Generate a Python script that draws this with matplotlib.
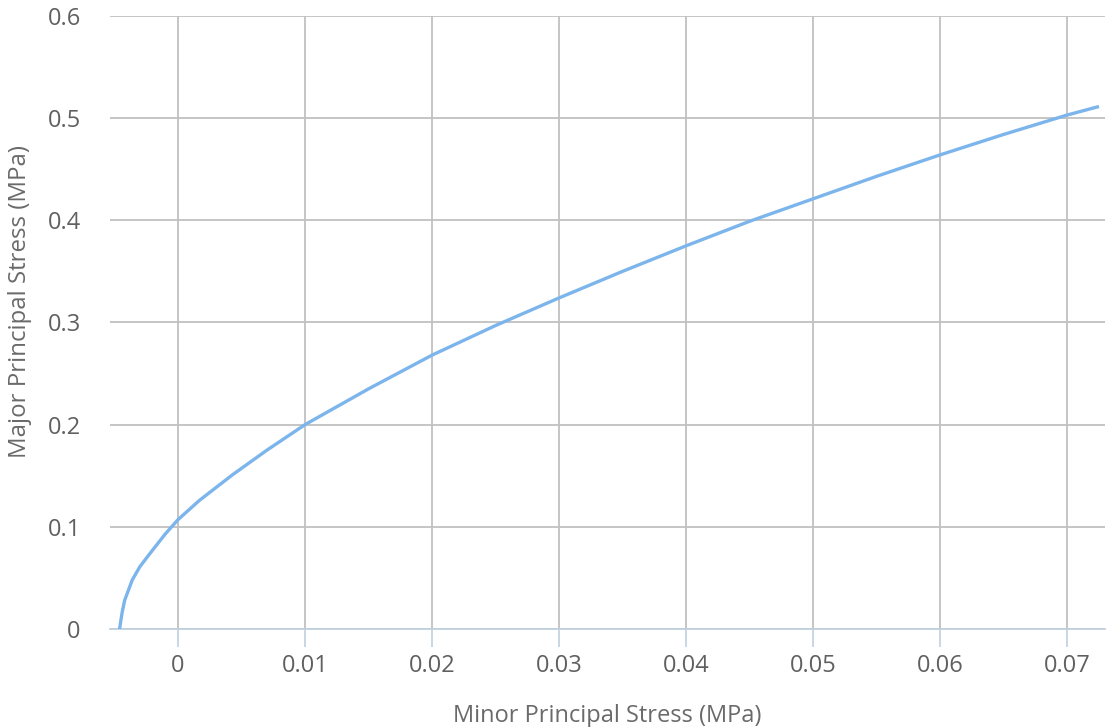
import numpy as np
import matplotlib.pyplot as plt

plt.rcParams['font.family'] = ['Open Sans', 'DejaVu Sans']

# minor / major principal stress (MPa)
sigma3 = [-0.0046, -0.0044, -0.0042, -0.0036, -0.0030, -0.0022, -0.0010, 0.0,
          0.0017, 0.0043, 0.0070, 0.010, 0.015, 0.020, 0.025, 0.030, 0.035,
          0.040, 0.045, 0.050, 0.055, 0.060, 0.065, 0.070, 0.0724]
sigma1 = [0.0, 0.016, 0.028, 0.048, 0.061, 0.074, 0.093, 0.107,
          0.126, 0.151, 0.175, 0.200, 0.235, 0.268, 0.297, 0.324, 0.350,
          0.375, 0.399, 0.421, 0.443, 0.464, 0.484, 0.503, 0.511]

xticks = [0, 0.01, 0.02, 0.03, 0.04, 0.05, 0.06, 0.07]
xtick_labels = ['0', '0.01', '0.02', '0.03', '0.04', '0.05', '0.06', '0.07']
yticks = [0, 0.1, 0.2, 0.3, 0.4, 0.5, 0.6]
ytick_labels = ['0', '0.1', '0.2', '0.3', '0.4', '0.5', '0.6']

fig = plt.figure(figsize=(11.08, 7.27), dpi=100)
ax = fig.add_axes([0.0993, 0.1348, 0.8980, 0.8432])

ax.plot(sigma3, sigma1, color='#7cb5ec', linewidth=2.4, zorder=3)

ax.set_xlim(-0.00535, 0.0730)
ax.set_ylim(0, 0.6)
ax.set_xticks(xticks)
ax.set_xticklabels(xtick_labels)
ax.set_yticks(yticks)
ax.set_yticklabels(ytick_labels)

ax.grid(True, color='#c0c0c0', linewidth=1.3)
ax.set_axisbelow(True)
for s in ['top', 'right', 'left']:
    ax.spines[s].set_visible(False)
ax.spines['bottom'].set_color('#c0d0e0')
ax.spines['bottom'].set_linewidth(1.3)

ax.tick_params(axis='x', length=13, width=1.2, color='#c0d0e0', pad=5,
               labelsize=17, labelcolor='#606060')
ax.tick_params(axis='y', length=0, pad=21, labelsize=17, labelcolor='#606060')

ax.set_xlabel('Minor Principal Stress (MPa)', fontsize=17, color='#6a6a6a', labelpad=19)
ax.set_ylabel('Major Principal Stress (MPa)', fontsize=17.3, color='#6a6a6a')
ax.yaxis.set_label_coords(-0.078, 0.535)

plt.savefig('out.png', dpi=100)
